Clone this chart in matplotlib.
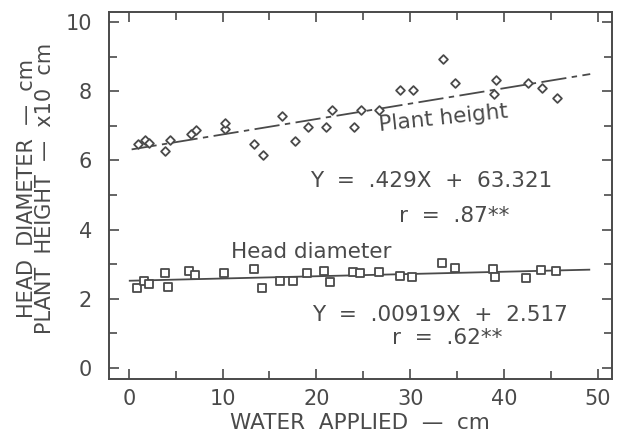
import numpy as np
import matplotlib
matplotlib.use('Agg')
import matplotlib.pyplot as plt
from matplotlib.ticker import MultipleLocator

# plant height (x10 cm) vs water applied (cm)
ph_x = [1.0, 1.7, 2.2, 3.9, 4.4, 6.6, 7.2, 10.3, 10.3, 13.3, 14.3, 16.3, 17.7,
        19.1, 21.0, 21.7, 24.0, 24.8, 26.7, 28.9, 30.3, 33.5, 34.8, 38.9, 39.1,
        42.6, 44.1, 45.7]
ph_y = [6.47, 6.58, 6.50, 6.28, 6.59, 6.78, 6.89, 6.90, 7.09, 6.47, 6.17, 7.28, 6.57,
        6.96, 6.96, 7.47, 6.96, 7.45, 7.46, 8.05, 8.05, 8.94, 8.25, 7.92, 8.34,
        8.23, 8.11, 7.80]

# head diameter (cm) vs water applied (cm)
hd_x = [0.9, 1.6, 2.2, 3.85, 4.2, 6.4, 7.1, 10.2, 13.3, 14.2, 16.1, 17.5, 19.0,
        20.8, 21.5, 23.9, 24.7, 26.7, 28.9, 30.2, 33.4, 34.8, 38.8, 39.0, 42.4,
        44.0, 45.6]
hd_y = [2.30, 2.52, 2.42, 2.74, 2.34, 2.81, 2.68, 2.73, 2.85, 2.30, 2.52, 2.52, 2.75,
        2.81, 2.48, 2.77, 2.73, 2.78, 2.66, 2.64, 3.04, 2.88, 2.85, 2.62, 2.60,
        2.84, 2.79]

# fitted lines, ends
ph_fit_x = [0.3, 49.2]
ph_fit_y = [6.32, 8.50]
hd_fit_x = [0.1, 49.1]
hd_fit_y = [2.52, 2.84]

ink = '#4a4a4a'
plt.rcParams['font.family'] = ['DejaVu Sans']

fig = plt.figure(figsize=(6.44, 4.36), dpi=100)
ax = fig.add_axes([0.169, 0.131, 0.781, 0.841])

ax.plot(ph_fit_x, ph_fit_y, color=ink, lw=1.3, ls=(0, (14, 3, 3, 3)))
ax.plot(hd_fit_x, hd_fit_y, color=ink, lw=1.3)
ax.scatter(ph_x, ph_y, marker='D', s=20, facecolors='white', edgecolors=ink, linewidths=1.3, zorder=3)
ax.scatter(hd_x, hd_y, marker='s', s=30, facecolors='white', edgecolors=ink, linewidths=1.3, zorder=3)

ax.set_xlim(-2.13, 51.5)
ax.set_ylim(-0.32, 10.29)
ax.xaxis.set_major_locator(MultipleLocator(10))
ax.xaxis.set_minor_locator(MultipleLocator(5))
ax.yaxis.set_major_locator(MultipleLocator(2))
ax.yaxis.set_minor_locator(MultipleLocator(1))
ax.tick_params(which='both', direction='in', top=True, right=True, color=ink,
               labelcolor=ink, labelsize=15, width=1.2)
ax.tick_params(which='major', length=7)
ax.tick_params(which='minor', length=6)
ax.tick_params(axis='x', which='major', pad=7)
ax.tick_params(axis='y', which='major', pad=12)
for s in ax.spines.values():
    s.set_color(ink)
    s.set_linewidth(1.4)

ax.set_xlabel('WATER  APPLIED  —  cm', fontsize=15.5, color=ink, labelpad=3)
fig.text(0.056, 0.567, 'HEAD  DIAMETER  —  cm\nPLANT  HEIGHT  —  x10  cm', fontsize=15,
         color=ink, rotation=90, ha='center', va='center', linespacing=0.92,
         multialignment='center')

tk = dict(color=ink, fontsize=15.5, ha='center', va='center')
ax.text(33.5, 7.23, 'Plant height', rotation=6, **tk)
ax.text(32.2, 5.40, 'Y  =  .429X  +  63.321', **tk)
ax.text(34.7, 4.39, 'r  =  .87**', **tk)
ax.text(19.4, 3.35, 'Head diameter', **tk)
ax.text(33.2, 1.53, 'Y  =  .00919X  +  2.517', **tk)
ax.text(33.9, 0.87, 'r  =  .62**', **tk)

fig.savefig('out.png', dpi=100)
